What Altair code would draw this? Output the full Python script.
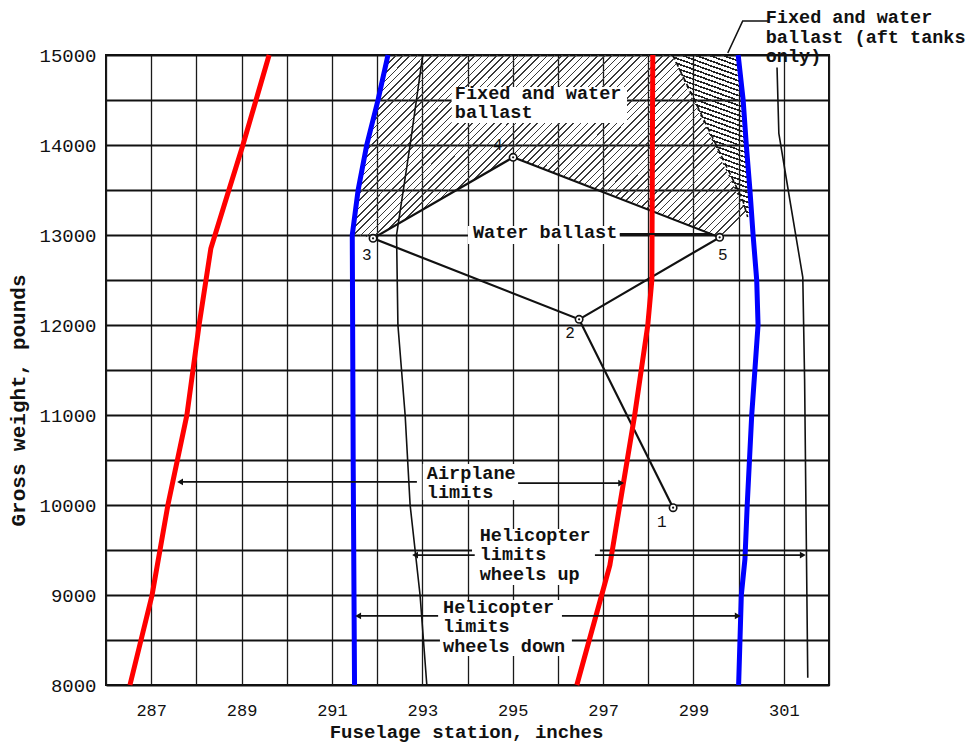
import altair as alt
import pandas as pd

FONT = "Liberation Mono"

# ---------------- data ----------------
# Airplane limits (red)
air_fwd_x = [286.53, 287.02, 287.37, 287.79, 288.06, 288.32, 288.72, 289.03, 289.61]
air_fwd_y = [8000, 9000, 10000, 11000, 12000, 12850, 13500, 14000, 15000]
air_aft_x = [296.42, 296.97, 297.15, 297.37, 297.70, 297.99, 298.08, 298.10]
air_aft_y = [8000, 9000, 9330, 10000, 11000, 12000, 12500, 15000]
# Helicopter limits, wheels down (blue)
hwd_fwd_x = [291.50, 291.47, 291.45, 291.58, 291.77, 292.02, 292.24]
hwd_fwd_y = [8000, 10500, 13000, 13500, 14000, 14500, 15000]
hwd_aft_x = [300.00, 300.06, 300.14, 300.19, 300.29, 300.36, 300.43, 300.40, 300.32, 300.25, 300.17, 300.10, 299.99]
hwd_aft_y = [8000, 9000, 9400, 10000, 11000, 11500, 12000, 12500, 13000, 13500, 14000, 14500, 15000]
# Helicopter limits, wheels up (thin black)
hwu_fwd_x = [293.10, 292.95, 292.73, 292.62, 292.46, 292.43, 292.73, 293.01]
hwu_fwd_y = [8000, 9000, 10000, 11000, 12000, 13000, 14000, 15000]
hwu_aft_x = [301.53, 301.46, 301.42, 301.13, 300.89, 300.85]
hwu_aft_y = [8080, 11400, 12530, 13400, 14130, 14860]

# Loading conditions
cond_id = ["1", "2", "3", "4", "5"]
cond_x = [298.55, 296.47, 291.91, 295.01, 299.58]
cond_y = [9970, 12063, 12963, 13863, 12974]
cond_label_x = [298.30, 296.27, 291.77, 294.67, 299.65]
cond_label_y = [9811, 11911, 12778, 14000, 12778]
path_order = ["1", "2", "3", "4", "5", "2"]

# Ballast regions (outline vertices)
ballast_x = [292.24, 298.52, 300.17, 299.58, 295.01, 291.91, 291.45, 291.58, 291.77, 292.02]
ballast_y = [15000, 15000, 13240, 12974, 13863, 12963, 13000, 13500, 14000, 14500]
aft_x = [298.52, 299.99, 300.10, 300.17, 300.25, 300.28, 300.17]
aft_y = [15000, 15000, 14500, 14000, 13500, 13250, 13240]
aft_bound_x = [298.54, 300.09, 300.20]
aft_bound_y = [15000, 13389, 13200]

# Annotations
ann_text = ["Fixed and water\nballast", "Water ballast", "Airplane\nlimits",
            "Helicopter\nlimits\nwheels up", "Helicopter\nlimits\nwheels down",
            "Fixed and water\nballast (aft tanks\nonly)"]
ann_x = [293.72, 294.12, 293.10, 294.27, 293.46, 300.60]
ann_y = [14680, 13130, 10456, 9767, 8967, 15522]
box_x1 = [293.65, 294.01, 293.01, 294.10, 293.39]
box_x2 = [297.53, 297.37, 295.09, 296.93, 296.31]
box_y1 = [14644, 13100, 10456, 9733, 8944]
box_y2 = [14244, 12900, 10056, 9111, 8322]
lead_x1 = [292.88, 295.12, 294.16, 296.82, 293.35, 296.09, 297.37]
lead_x2 = [287.64, 297.40, 292.84, 301.42, 291.58, 299.98, 299.41]
lead_y = [10256, 10244, 9444, 9444, 8767, 8767, 13011]
arrow_dir = ["left", "right", "left", "right", "left", "right", None]
aft_lead_x = [300.65, 300.09, 299.76]
aft_lead_y = [15378, 15378, 15022]

x_ticks = list(range(286, 303))
y_ticks = list(range(8000, 15001, 500))

# ---------------- tables ----------------
def series(name, xs, ys):
    return pd.DataFrame({"s": name, "x": xs, "y": ys, "seq": range(len(xs))})

thick = pd.concat([
    series("air_fwd", air_fwd_x, air_fwd_y),
    series("air_aft", air_aft_x, air_aft_y),
    series("hwd_fwd", hwd_fwd_x, hwd_fwd_y),
    series("hwd_aft", hwd_aft_x, hwd_aft_y),
])
thick["kind"] = thick["s"].str[:3]
thin = pd.concat([series("hwu_fwd", hwu_fwd_x, hwu_fwd_y),
                  series("hwu_aft", hwu_aft_x, hwu_aft_y)])
cond = pd.DataFrame({"id": cond_id, "x": cond_x, "y": cond_y,
                     "lx": cond_label_x, "ly": cond_label_y})
lookup = dict(zip(cond_id, zip(cond_x, cond_y)))
path = pd.DataFrame({"id": path_order,
                     "x": [lookup[i][0] for i in path_order],
                     "y": [lookup[i][1] for i in path_order],
                     "seq": range(len(path_order))})
ballast = series("ballast", ballast_x, ballast_y)
aft = series("aft", aft_x, aft_y)
aft_bound = series("bound", aft_bound_x, aft_bound_y)
ann = pd.DataFrame({"t": ann_text, "x": ann_x, "y": ann_y})
boxes = pd.DataFrame({"x": box_x1, "x2": box_x2, "y": box_y1, "y2": box_y2})
leads = pd.DataFrame({"x": lead_x1, "x2": lead_x2, "y": lead_y, "d": arrow_dir})
heads = leads.dropna()
aft_lead = series("lead", aft_lead_x, aft_lead_y)

XS = alt.Scale(domain=[286, 302], nice=False, zero=False)
YS = alt.Scale(domain=[8000, 15000], nice=False, zero=False)

X_AXIS = alt.Axis(values=x_ticks, grid=True, ticks=False, domain=False,
                  labelExpr="datum.value % 2 == 1 ? datum.label : ''",
                  labelFont=FONT, labelFontSize=17, labelColor="#111",
                  labelPadding=17, gridColor="#1a1a1a", gridWidth=1.3,
                  titleFont=FONT, titleFontSize=19, titleFontWeight="bold",
                  titleColor="#111", titleX=360, titleY=46,
                  titleBaseline="middle")
Y_AXIS = alt.Axis(values=y_ticks, grid=True, ticks=False, domain=False,
                  format="d",
                  labelExpr="datum.value % 1000 == 0 ? datum.label : ''",
                  labelFont=FONT, labelFontSize=19, labelColor="#111",
                  labelPadding=10, gridColor="#111", gridWidth=1.8,
                  titleFont=FONT, titleFontSize=21, titleFontWeight="bold",
                  titleColor="#111", titleX=-88, titleY=345,
                  titleBaseline="middle", titleAngle=-90)
X_TITLE = "Fuselage station, inches"
Y_TITLE = "Gross weight, pounds"

def X(f="x"):
    return alt.X(f"{f}:Q", scale=XS, axis=X_AXIS, title=X_TITLE)

def Y(f="y"):
    return alt.Y(f"{f}:Q", scale=YS, axis=Y_AXIS, title=Y_TITLE)

def stripes(n, frac, color):
    stops = []
    for i in range(n):
        a = i / n
        b = (i + frac) / n
        stops += [alt.GradientStop(offset=a, color="rgba(0,0,0,0)"),
                  alt.GradientStop(offset=a, color=color),
                  alt.GradientStop(offset=b, color=color),
                  alt.GradientStop(offset=b, color="rgba(0,0,0,0)")]
    return stops

hatch_a = alt.LinearGradient(gradient="linear", stops=stripes(80, 0.22, "#3a3a3a"),
                             x1=0, y1=0, x2=1.2046, y2=0.5595)
hatch_b = alt.LinearGradient(gradient="linear", stops=stripes(38, 0.34, "#222222"),
                             x1=1, y1=0, x2=0.792, y2=1.144)

# ---------------- layers ----------------
hatch1 = alt.Chart(ballast).mark_line(fill=hatch_a, strokeOpacity=0).encode(
    x=X(), y=Y(), order="seq:Q")
hatch2 = alt.Chart(aft).mark_line(fill=hatch_b, strokeOpacity=0).encode(
    x=X(), y=Y(), order="seq:Q")
bound = alt.Chart(aft_bound).mark_line(color="#111", strokeWidth=1.6,
                                       strokeDash=[5, 3]).encode(
    x=X(), y=Y(), order="seq:Q")

white = alt.Chart(boxes).mark_rect(color="white").encode(
    x=X(), x2="x2:Q", y=Y(), y2="y2:Q")

thin_lines = alt.Chart(thin).mark_line(color="#111", strokeWidth=1.6).encode(
    x=X(), y=Y(), detail="s:N", order="seq:Q")

path_line = alt.Chart(path).mark_line(color="#111", strokeWidth=2.2).encode(
    x=X(), y=Y(), order="seq:Q")

thick_lines = alt.Chart(thick).mark_line(strokeWidth=5).encode(
    x=X(), y=Y(), detail="s:N", order="seq:Q",
    color=alt.Color("kind:N", scale=alt.Scale(domain=["air", "hwd"],
                                              range=["#ff0000", "#0000ff"]),
                    legend=None))

pts = alt.Chart(cond).mark_point(shape="circle", size=55, filled=True, fill="white",
                                 stroke="#111", strokeWidth=1.6, opacity=1).encode(
    x=X(), y=Y())
dots = alt.Chart(cond).mark_point(shape="circle", size=5, filled=True,
                                  color="#111", opacity=1).encode(x=X(), y=Y())
nums = alt.Chart(cond).mark_text(font=FONT, fontSize=16, color="#111",
                                 align="center", baseline="middle").encode(
    x=X("lx"), y=Y("ly"), text="id:N")

texts = alt.Chart(ann).mark_text(font=FONT, fontSize=18.5, color="#111", align="left",
                                 baseline="top", lineBreak="\n", fontWeight="bold",
                                 lineHeight=19.5).encode(
    x=X(), y=Y(), text="t:N")

leaders = alt.Chart(leads).mark_rule(color="#111", strokeWidth=1.8).encode(
    x=X(), x2="x2:Q", y=Y())
heads_l = alt.Chart(heads[heads["d"] == "left"]).mark_point(
    shape="triangle-left", size=45, filled=True, color="#111", opacity=1).encode(
    x=X("x2"), y=Y())
heads_r = alt.Chart(heads[heads["d"] == "right"]).mark_point(
    shape="triangle-right", size=45, filled=True, color="#111", opacity=1).encode(
    x=X("x2"), y=Y())
aft_leader = alt.Chart(aft_lead).mark_line(color="#111", strokeWidth=1.6).encode(
    x=X(), y=Y(), order="seq:Q")

chart = alt.layer(
    hatch1, hatch2, bound, white, thin_lines, path_line, thick_lines,
    pts, dots, nums, texts, leaders, heads_l, heads_r, aft_leader,
).properties(
    width=723, height=630,
    autosize=alt.AutoSizeParams(type="none"),
    padding={"left": 106, "top": 55, "right": 142, "bottom": 61},
    background="white",
).configure_view(stroke="#111", strokeWidth=2)

chart.save("out.html", embed_options={"renderer": "svg", "actions": False})
